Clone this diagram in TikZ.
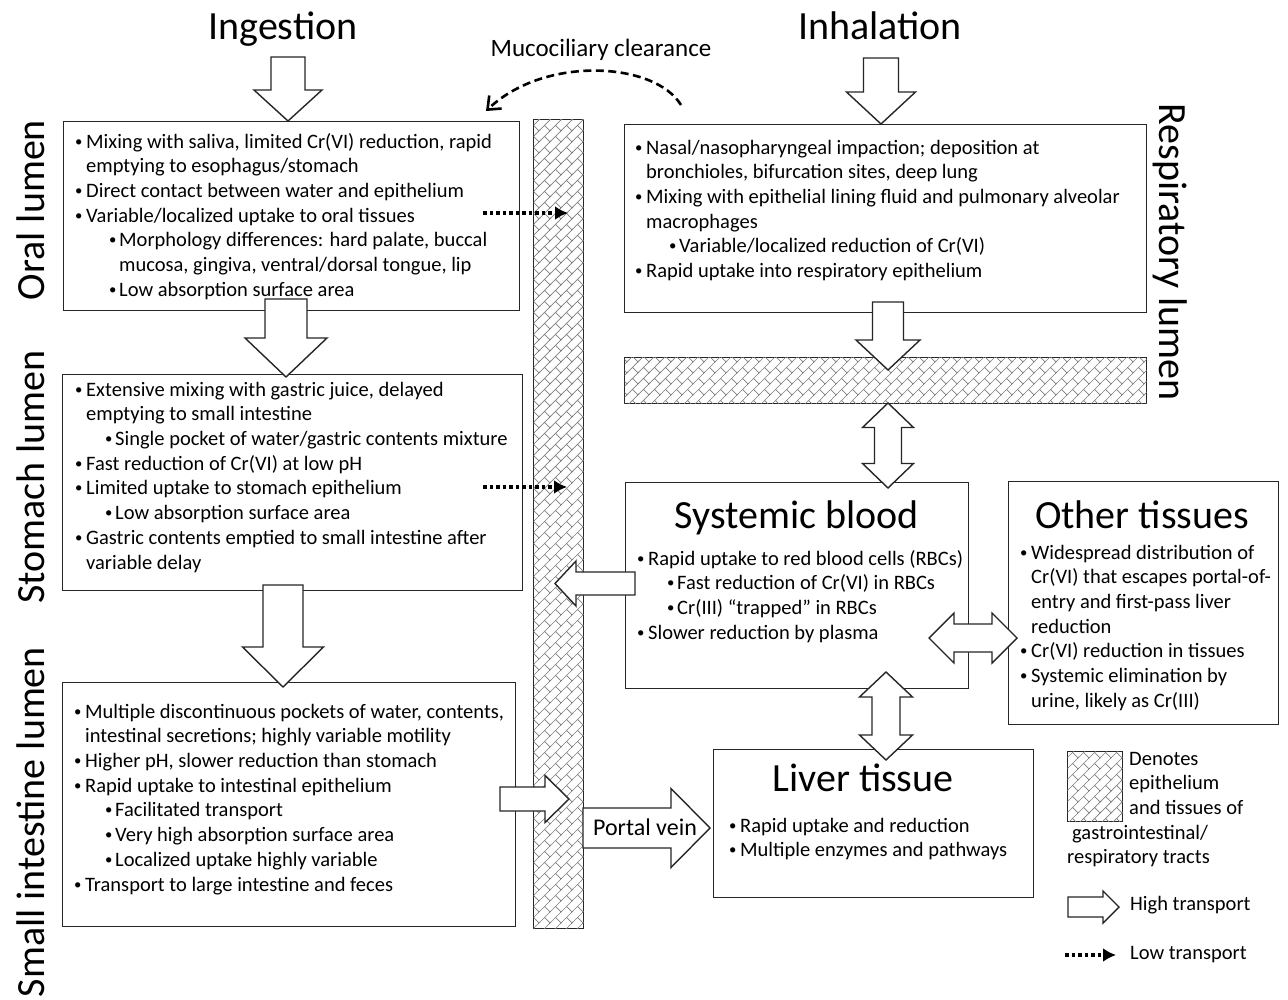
\documentclass[tikz,border=0pt]{standalone}
\usepackage{fontspec}
\setmainfont{Carlito}
\usetikzlibrary{calc,patterns,arrows.meta}

% brick pattern drawn along the diagonal, used for epithelium and tissue walls
\pgfdeclarepatternformonly{diagonal brick}{\pgfpoint{-1pt}{-1pt}}{\pgfpoint{12pt}{12pt}}{\pgfpoint{11pt}{11pt}}{%
  \pgfsetlinewidth{0.7pt}%
  \pgfpathmoveto{\pgfpoint{-1pt}{-1pt}}\pgfpathlineto{\pgfpoint{12pt}{12pt}}%
  \pgfpathmoveto{\pgfpoint{5.5pt}{5.5pt}}\pgfpathlineto{\pgfpoint{11pt}{0pt}}%
  \pgfusepath{stroke}}

\newcommand\bodyfont{\fontsize{20.5}{24.7}\selectfont}
\newcommand\titlefont{\fontsize{40}{48}\selectfont}

% bullet lists with hanging indents
\newcommand\smallbullet{\raisebox{2pt}{\scalebox{0.72}{\textbullet}}}
\newcommand\bul[1]{\makebox[11pt][l]{\smallbullet}#1}
\newcommand\cont[1]{\hspace*{11pt}#1}
\newcommand\subbul[2][34pt]{\hspace*{#1}\makebox[10pt][l]{\smallbullet}#2}
\newcommand\subcont[2][44pt]{\hspace*{#1}#2}

% hollow block arrow: start, tip, shaft half-width, head half-width, head length
\newcommand\blockarrow[5]{%
  \draw[blockarrow] let \p1=(#1), \p2=(#2), \n1={atan2(\y2-\y1,\x2-\x1)} in
    ($(\p1)+({\n1+90}:#3)$)
    -- ($(\p2)+({\n1+180}:#5)+({\n1+90}:#3)$)
    -- ($(\p2)+({\n1+180}:#5)+({\n1+90}:#4)$)
    -- (\p2)
    -- ($(\p2)+({\n1+180}:#5)+({\n1-90}:#4)$)
    -- ($(\p2)+({\n1+180}:#5)+({\n1-90}:#3)$)
    -- ($(\p1)+({\n1-90}:#3)$) -- cycle;}

% hollow double-headed block arrow: tip A, tip B, shaft half-width, head half-width, head length
\newcommand\dblockarrow[5]{%
  \draw[blockarrow] let \p1=(#1), \p2=(#2), \n1={atan2(\y2-\y1,\x2-\x1)} in
    (\p1)
    -- ($(\p1)+({\n1}:#5)+({\n1+90}:#4)$)
    -- ($(\p1)+({\n1}:#5)+({\n1+90}:#3)$)
    -- ($(\p2)+({\n1+180}:#5)+({\n1+90}:#3)$)
    -- ($(\p2)+({\n1+180}:#5)+({\n1+90}:#4)$)
    -- (\p2)
    -- ($(\p2)+({\n1+180}:#5)+({\n1-90}:#4)$)
    -- ($(\p2)+({\n1+180}:#5)+({\n1-90}:#3)$)
    -- ($(\p1)+({\n1}:#5)+({\n1-90}:#3)$)
    -- ($(\p1)+({\n1}:#5)+({\n1-90}:#4)$) -- cycle;}

\tikzset{
  box/.style={draw=black!85, line width=1.4pt, fill=white, anchor=north west, inner sep=0pt},
  epi/.style={postaction={pattern=diagonal brick, pattern color=black!50}},
  blockarrow/.style={draw=black!85, fill=white, line width=1.4pt, line join=miter},
  lowflow/.style={line width=3.5pt, dash pattern=on 3.5pt off 3pt, -{Latex[length=13pt,width=14pt]}},
  clearance/.style={line width=2.6pt, dash pattern=on 8pt off 4.5pt, -{Straight Barb[length=11pt,width=18pt,line width=2.6pt]}},
  bodytext/.style={anchor=north west, inner sep=0pt, align=left, font=\bodyfont},
  heading/.style={anchor=base, inner sep=0pt, font=\titlefont},
  sidelabel/.style={inner sep=0pt, font=\titlefont},
  plain/.style={inner sep=0pt, font=\bodyfont},
}

\begin{document}
\begin{tikzpicture}[x=1pt,y=1pt]
\fill[white] (0,0) rectangle (1288,-1000);
\useasboundingbox (0,0) rectangle (1288,-1000);

% headings
\node[heading] (ingestion) at (283,-40) {Ingestion};
\node[heading] (inhalation) at (880,-40) {Inhalation};
\node[anchor=base, inner sep=0pt, font=\fontsize{25}{30}\selectfont] (mucociliary) at (601,-57) {Mucociliary clearance};

% lumen labels
\node[sidelabel, rotate=90] (orallab) at (31,-210) {Oral lumen};
\node[sidelabel, rotate=90] (stomachlab) at (31,-477) {Stomach lumen};
\node[sidelabel, rotate=90] (intestinelab) at (31,-822) {Small intestine lumen};
\node[sidelabel, rotate=-90] (resplab) at (1170,-252) {Respiratory lumen};

% compartments
\node[box, minimum width=456pt, minimum height=189pt] (oral) at (63,-121) {};
\node[box, minimum width=460pt, minimum height=216pt] (stomach) at (62,-374) {};
\node[box, minimum width=453pt, minimum height=244pt] (intestine) at (62,-682) {};
\node[box, minimum width=522pt, minimum height=188pt] (resp) at (624,-124) {};
\node[box, minimum width=343pt, minimum height=206pt] (blood) at (625,-482) {};
\node[box, minimum width=270pt, minimum height=243pt] (other) at (1008,-481) {};
\node[box, minimum width=320pt, minimum height=148pt] (liver) at (713,-749) {};

% epithelium walls
\node[box, epi, minimum width=50pt, minimum height=809pt] (gutwall) at (533,-119) {};
\node[box, epi, minimum width=522pt, minimum height=46pt] (lungwall) at (624,-357) {};
\node[box, epi, minimum width=55pt, minimum height=70pt] (legendepi) at (1067,-751) {};

% compartment texts
\node[bodytext] (oraltxt) at (75,-130.7) {\strut\bul{Mixing with saliva, limited Cr(VI) reduction, rapid}\\
\cont{emptying to esophagus/stomach}\\
\bul{Direct contact between water and epithelium}\\
\bul{Variable/localized uptake to oral tissues}\\
\subbul{Morphology differences: hard palate, buccal}\\
\subcont{mucosa, gingiva, ventral/dorsal tongue, lip}\\
\subbul{Low absorption surface area}};

\node[bodytext] (resptxt) at (635,-136.7) {\strut\bul{Nasal/nasopharyngeal impaction; deposition at}\\
\cont{bronchioles, bifurcation sites, deep lung}\\
\bul{Mixing with epithelial lining fluid and pulmonary alveolar}\\
\cont{macrophages}\\
\subbul{Variable/localized reduction of Cr(VI)}\\
\bul{Rapid uptake into respiratory epithelium}};

\node[bodytext] (stomachtxt) at (75,-378.7) {\strut\bul{Extensive mixing with gastric juice, delayed}\\
\cont{emptying to small intestine}\\
\subbul[30pt]{Single pocket of water/gastric contents mixture}\\
\bul{Fast reduction of Cr(VI) at low pH}\\
\bul{Limited uptake to stomach epithelium}\\
\subbul[30pt]{Low absorption surface area}\\
\bul{Gastric contents emptied to small intestine after}\\
\cont{variable delay}};

\node[bodytext] (intestinetxt) at (74,-700.7) {\strut\bul{Multiple discontinuous pockets of water, contents,}\\
\cont{intestinal secretions; highly variable motility}\\
\bul{Higher pH, slower reduction than stomach}\\
\bul{Rapid uptake to intestinal epithelium}\\
\subbul[31pt]{Facilitated transport}\\
\subbul[31pt]{Very high absorption surface area}\\
\subbul[31pt]{Localized uptake highly variable}\\
\bul{Transport to large intestine and feces}};

\node[heading] (bloodtitle) at (797,-528) {Systemic blood};
\node[bodytext] (bloodtxt) at (637,-547.7) {\strut\bul{Rapid uptake to red blood cells (RBCs)}\\
\subbul[30pt]{Fast reduction of Cr(VI) in RBCs}\\
\subbul[30pt]{Cr(III) “trapped” in RBCs}\\
\bul{Slower reduction by plasma}};

\node[heading] (othertitle) at (1142,-528) {Other tissues};
\node[bodytext] (othertxt) at (1020,-541.7) {\strut\bul{Widespread distribution of}\\
\cont{Cr(VI) that escapes portal-of-}\\
\cont{entry and first-pass liver}\\
\cont{reduction}\\
\bul{Cr(VI) reduction in tissues}\\
\bul{Systemic elimination by}\\
\cont{urine, likely as Cr(III)}};

\node[heading] (livertitle) at (863,-791) {Liver tissue};
\node[bodytext] (livertxt) at (729,-814.7) {\strut\bul{Rapid uptake and reduction}\\
\bul{Multiple enzymes and pathways}};

% legend texts
\node[bodytext] (legendtxt) at (1067,-747.7) {\strut\hspace*{62pt}Denotes\\
\hspace*{62pt}epithelium\\
\hspace*{62pt}and tissues of\\
\hspace*{5pt}gastrointestinal/\\
respiratory tracts};
\node[plain, anchor=west] (hightxt) at (1130,-905) {High transport};
\node[plain, anchor=west] (lowtxt) at (1130,-955) {Low transport};

% arrow end points
\coordinate (ingtop) at (288,-57);
\coordinate (inhtop) at (881,-58);
\coordinate (oralout) at (286,-299);
\coordinate (stomachin) at (286,-377);
\coordinate (stomachout) at (283,-585);
\coordinate (intestinein) at (283,-687);
\coordinate (respout) at (888,-302);
\coordinate (respin) at (888,-370);
\coordinate (lungtip) at (888,-403);
\coordinate (bloodtip) at (888,-488);
\coordinate (bloodlow) at (886,-672);
\coordinate (livertip) at (886,-760);
\coordinate (bloodleft) at (635,-583.5);
\coordinate (walltip) at (555,-583.5);
\coordinate (bloodright) at (929,-638);
\coordinate (othertip) at (1017,-638);
\coordinate (intestineout) at (500,-799);
\coordinate (intestinetip) at (569,-799);
\coordinate (portalstart) at (583,-828);
\coordinate (portaltip) at (710,-828);
\coordinate (highstart) at (1068,-907);
\coordinate (hightip) at (1119,-907);

% high transport
\blockarrow{ingtop}{ingtop |- oral.north}{17}{34}{31}
\blockarrow{inhtop}{inhtop |- resp.north}{17.5}{34.5}{32}
\blockarrow{oralout}{stomachin}{21}{41}{39}
\blockarrow{stomachout}{intestinein}{20}{40.5}{40}
\blockarrow{respout}{respin}{15.5}{32}{30}
\dblockarrow{lungtip}{bloodtip}{13.5}{25.5}{24.5}
\dblockarrow{bloodlow}{livertip}{14}{26.5}{25}
\blockarrow{bloodleft}{walltip}{11.5}{22.5}{21}
\dblockarrow{bloodright}{othertip}{14}{25}{25}
\blockarrow{intestineout}{intestinetip}{12}{23.5}{24}
\blockarrow{portalstart}{portaltip}{20}{39.5}{39}
\blockarrow{highstart}{hightip}{10}{16}{16}
\node[inner sep=0pt, anchor=base, font=\fontsize{24}{29}\selectfont] (portal) at (645,-835) {Portal vein};

% low transport
\coordinate (oraldot) at (483,-213);
\coordinate (oraldottip) at (568,-213);
\coordinate (stomachdot) at (483,-487);
\coordinate (stomachdottip) at (567,-487);
\coordinate (lowstart) at (1065,-955);
\coordinate (lowtip) at (1116,-955);
\draw[lowflow] (oraldot) -- (oraldottip);
\draw[lowflow] (stomachdot) -- (stomachdottip);
\draw[lowflow] (lowstart) -- (lowtip);

% mucociliary clearance back to the oral lumen
\coordinate (mcstart) at (681,-105);
\coordinate (mcend) at (486,-111);
\draw[clearance] (mcstart) .. controls (655,-62) and (545,-55) .. (mcend);
\end{tikzpicture}
\end{document}
